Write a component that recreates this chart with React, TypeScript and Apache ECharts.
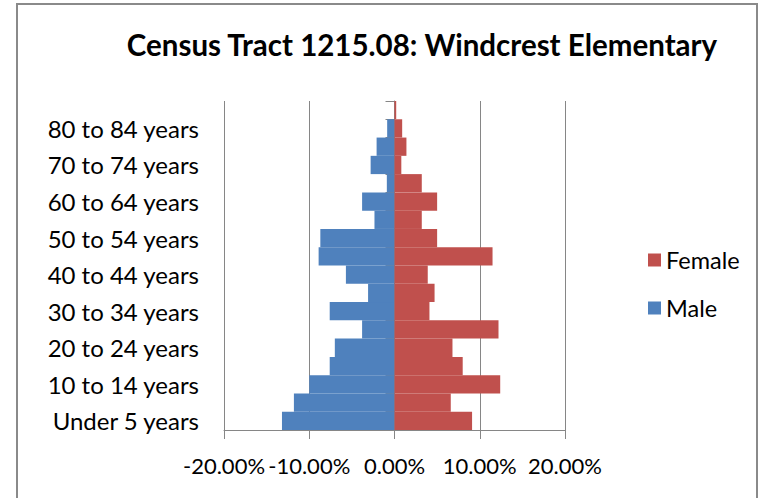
import React, { useEffect, useRef } from "react";
import * as echarts from "echarts";

const categories = [
  "Under 5 years", "5 to 9 years", "10 to 14 years", "15 to 19 years",
  "20 to 24 years", "25 to 29 years", "30 to 34 years", "35 to 39 years",
  "40 to 44 years", "45 to 49 years", "50 to 54 years", "55 to 59 years",
  "60 to 64 years", "65 to 69 years", "70 to 74 years", "75 to 79 years",
  "80 to 84 years", "85 years and over",
];
// percent of population
const maleValues = [13.2, 11.8, 10.0, 7.6, 7.0, 3.8, 7.6, 3.1, 5.7, 8.9, 8.7, 2.35, 3.8, 0.9, 2.8, 2.1, 0.86, 0];
const femaleValues = [9.1, 6.6, 12.4, 8.0, 6.8, 12.2, 4.1, 4.7, 3.9, 11.5, 5.0, 3.2, 5.0, 3.2, 0.8, 1.4, 0.9, 0.2];
const xTicks = [-20, -10, 0, 10, 20];

const FONT = "Lato, 'Open Sans', sans-serif";

export default function App() {
  const ref = useRef<HTMLDivElement>(null);
  useEffect(() => {
    if (!ref.current) return;
    const chart = echarts.init(ref.current, undefined, { renderer: "svg" });
    const grey = "#868686";
    chart.setOption({
      animation: false,
      backgroundColor: "#ffffff",
      title: {
        text: "Census Tract 1215.08: Windcrest Elementary",
        left: 417,
        textAlign: "center",
        top: 24,
        textStyle: { fontFamily: FONT, fontSize: 29.5, fontWeight: "bold", color: "#000" },
      },
      legend: {
        orient: "vertical",
        left: 648,
        top: 248,
        padding: 0,
        itemWidth: 13,
        itemHeight: 13,
        itemGap: 24,
        icon: "rect",
        data: ["Female", "Male"],
        textStyle: { fontFamily: FONT, fontSize: 23.5, color: "#000" },
      },
      grid: { left: 224, right: 195, top: 101, bottom: 68, containLabel: false },
      xAxis: {
        type: "value",
        min: xTicks[0],
        max: xTicks[xTicks.length - 1],
        interval: 10,
        axisLine: { show: true, onZero: false, lineStyle: { color: grey, width: 1 } },
        axisTick: { show: true, inside: false, length: 9, lineStyle: { color: grey } },
        splitLine: { show: true, lineStyle: { color: grey, width: 1 } },
        axisLabel: {
          margin: 24,
          showMinLabel: true,
          showMaxLabel: true,
          hideOverlap: false,
          fontFamily: FONT,
          fontSize: 22,
          color: "#000",
          formatter: (v: number) => v.toFixed(2) + "%",
        },
      },
      yAxis: [
        {
          type: "category",
          data: categories,
          position: "left",
          axisLine: { show: false, onZero: false },
          axisTick: { show: false },
          axisLabel: {
            interval: 1,
            margin: 25,
            fontFamily: FONT,
            fontSize: 24,
            color: "#000",
          },
        },
        {
          type: "category",
          data: categories,
          position: "left",
          axisLine: { show: true, onZero: true, lineStyle: { color: grey, width: 1 } },
          axisTick: { show: true, length: 9, interval: 0, lineStyle: { color: grey } },
          axisLabel: { show: false },
        },
      ],
      series: [
        {
          name: "Male",
          type: "bar",
          yAxisIndex: 0,
          data: maleValues.map((v) => -v),
          barCategoryGap: "0%",
          barGap: "-100%",
          itemStyle: { color: "#4F81BD" },
          z: 1,
        },
        {
          name: "Female",
          type: "bar",
          yAxisIndex: 0,
          data: femaleValues,
          barCategoryGap: "0%",
          barGap: "-100%",
          itemStyle: { color: "#C0504D" },
          z: 1,
        },
      ],
      graphic: [
        {
          type: "rect",
          shape: { x: 17, y: 4, width: 740, height: 520 },
          style: { fill: "none", stroke: "#8a8a8a", lineWidth: 2 },
          z: 100,
        },
      ],
    });
    return () => chart.dispose();
  }, []);
  return (
    <div
      ref={ref}
      style={{ position: "absolute", left: 0, top: 0, width: 760, height: 498 }}
    />
  );
}
